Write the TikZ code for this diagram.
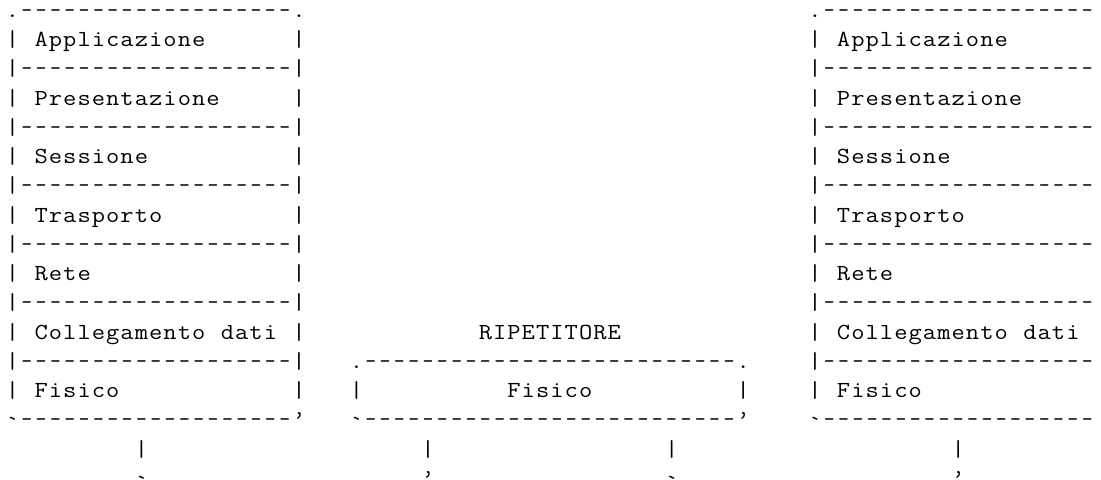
\documentclass[tikz,border=0pt]{standalone}
\usepackage{fontspec}
\setmonofont{Latin Modern Mono}[FakeStretch=1.12]
\usepackage{graphicx}
\usepackage{tikz}
\usetikzlibrary{positioning}

% one character per cell of the text grid
\newlength\cellw
\setlength\cellw{14.33pt}
\makeatletter
\def\gr@hy{-}
\newcommand\gridrow[1]{\@tfor\gr@ch:=#1\do{\makebox[\cellw][c]{\ifx\gr@ch\gr@hy\scalebox{0.82}[1]{-}\else\gr@ch\fi}}}
\makeatother
\newcommand\ltick{\raisebox{-5pt}{`}}

\tikzset{
  ascii/.style={font=\ttfamily\fontsize{23}{29.25}\selectfont, inner sep=0pt, outer sep=0pt, anchor=base west}
}

\begin{document}
\begin{tikzpicture}[x=14.33pt, y=-29.25pt]
  \useasboundingbox (-0.372,-0.598) rectangle (76.46,15.78);

  % --- Left host: seven layers ---
  \node[ascii] (lhtop) at (0,0)  {\gridrow{.-------------------.}};
  \node[ascii] (lh1)   at (0,1)  {\gridrow{|~Applicazione~~~~~~|}};
  \node[ascii] (lhs1)  at (0,2)  {\gridrow{|-------------------|}};
  \node[ascii] (lh2)   at (0,3)  {\gridrow{|~Presentazione~~~~~|}};
  \node[ascii] (lhs2)  at (0,4)  {\gridrow{|-------------------|}};
  \node[ascii] (lh3)   at (0,5)  {\gridrow{|~Sessione~~~~~~~~~~|}};
  \node[ascii] (lhs3)  at (0,6)  {\gridrow{|-------------------|}};
  \node[ascii] (lh4)   at (0,7)  {\gridrow{|~Trasporto~~~~~~~~~|}};
  \node[ascii] (lhs4)  at (0,8)  {\gridrow{|-------------------|}};
  \node[ascii] (lh5)   at (0,9)  {\gridrow{|~Rete~~~~~~~~~~~~~~|}};
  \node[ascii] (lhs5)  at (0,10) {\gridrow{|-------------------|}};
  \node[ascii] (lh6)   at (0,11) {\gridrow{|~Collegamento~dati~|}};
  \node[ascii] (lhs6)  at (0,12) {\gridrow{|-------------------|}};
  \node[ascii] (lh7)   at (0,13) {\gridrow{|~Fisico~~~~~~~~~~~~|}};
  \node[ascii] (lhbot) at (0,14) {\gridrow{\ltick-------------------’}};

  % --- Repeater: physical layer only ---
  \node[ascii] (rptname) at (33,11) {\gridrow{RIPETITORE}};
  \node[ascii] (rpttop)  at (24,12) {\gridrow{.--------------------------.}};
  \node[ascii] (rpt)     at (24,13) {\gridrow{|~~~~~~~~~~Fisico~~~~~~~~~~|}};
  \node[ascii] (rptbot)  at (24,14) {\gridrow{\ltick--------------------------’}};

  % --- Right host: seven layers (cut at the right edge) ---
  \node[ascii] (rhtop) at (56,0)  {\gridrow{.-------------------}};
  \node[ascii] (rh1)   at (56,1)  {\gridrow{|~Applicazione}};
  \node[ascii] (rhs1)  at (56,2)  {\gridrow{|-------------------}};
  \node[ascii] (rh2)   at (56,3)  {\gridrow{|~Presentazione}};
  \node[ascii] (rhs2)  at (56,4)  {\gridrow{|-------------------}};
  \node[ascii] (rh3)   at (56,5)  {\gridrow{|~Sessione}};
  \node[ascii] (rhs3)  at (56,6)  {\gridrow{|-------------------}};
  \node[ascii] (rh4)   at (56,7)  {\gridrow{|~Trasporto}};
  \node[ascii] (rhs4)  at (56,8)  {\gridrow{|-------------------}};
  \node[ascii] (rh5)   at (56,9)  {\gridrow{|~Rete}};
  \node[ascii] (rhs5)  at (56,10) {\gridrow{|-------------------}};
  \node[ascii] (rh6)   at (56,11) {\gridrow{|~Collegamento~dati}};
  \node[ascii] (rhs6)  at (56,12) {\gridrow{|-------------------}};
  \node[ascii] (rh7)   at (56,13) {\gridrow{|~Fisico}};
  \node[ascii] (rhbot) at (56,14) {\gridrow{\ltick-------------------}};

  % --- Cables ---
  \node[ascii] (cabla) at (9,15)  {\gridrow{|}};
  \node[ascii] (cablb) at (29,15) {\gridrow{|}};
  \node[ascii] (cablc) at (46,15) {\gridrow{|}};
  \node[ascii] (cabld) at (66,15) {\gridrow{|}};
  \node[ascii] (benda) at (9,16)  {\gridrow{\ltick}};
  \node[ascii] (bendb) at (29,16) {\gridrow{’}};
  \node[ascii] (bendc) at (46,16) {\gridrow{\ltick}};
  \node[ascii] (bendd) at (66,16) {\gridrow{’}};
\end{tikzpicture}
\end{document}
